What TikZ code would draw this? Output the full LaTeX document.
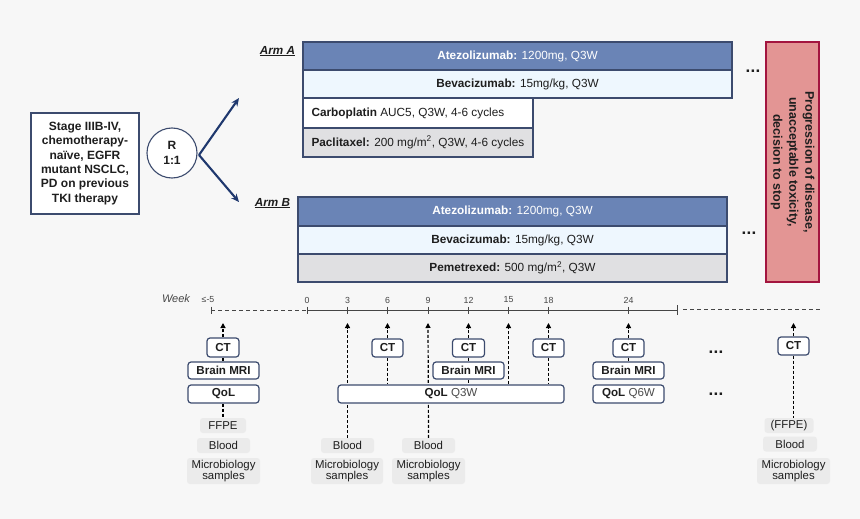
\documentclass[tikz,border=0pt]{standalone}
\usepackage{fontspec}
\setmainfont{Liberation Sans}
\usetikzlibrary{arrows.meta,backgrounds}
\definecolor{bgc}{HTML}{F7F7F7}
\definecolor{armline}{RGB}{60,75,110}
\definecolor{armblue}{RGB}{106,132,182}
\definecolor{armlight}{RGB}{238,247,254}
\definecolor{armgrey}{RGB}{224,224,226}
\definecolor{redfill}{RGB}{227,149,148}
\definecolor{redline}{RGB}{163,21,63}
\definecolor{navyarrow}{RGB}{31,56,110}
\definecolor{sampbg}{RGB}{235,235,235}
\definecolor{txt}{RGB}{30,30,30}
\definecolor{tlc}{RGB}{70,70,70}
\newcommand{\tdots}{.\kern0.3pt.\kern0.3pt.}
\tikzset{
  armrow/.style={draw=armline, line width=1.1pt, inner sep=0pt, text=txt,
    font=\fontsize{11.8}{14}\selectfont},
  stagebox/.style={draw=armline, line width=1.1pt, fill=white, inner sep=0pt, align=center,
    text=txt, font=\bfseries\fontsize{12}{14.3}\selectfont},
  armlab/.style={text=txt, font=\bfseries\itshape\fontsize{11.7}{14}\selectfont},
  armarrow/.style={draw=navyarrow, line width=2.1pt, -{Stealth[length=8pt,width=7pt]}},
  dotlab/.style={text=txt, inner sep=0pt, font=\bfseries\fontsize{17}{17}\selectfont},
  tl/.style={draw=tlc, line width=1pt},
  tldash/.style={tl, dash pattern=on 4pt off 3pt},
  numlab/.style={text=tlc, font=\fontsize{8.8}{10}\selectfont, inner sep=0pt},
  tbox/.style={draw=armline, line width=1.2pt, rounded corners=3pt, fill=white, inner sep=0pt,
    text=txt, font=\bfseries\fontsize{11.6}{13}\selectfont},
  sbox/.style={fill=sampbg, rounded corners=3pt, inner sep=0pt, align=center, text=txt,
    font=\fontsize{11.4}{10.5}\selectfont},
  darr/.style={draw=black, line width=1.2pt, dash pattern=on 3pt off 2pt,
    -{Triangle[length=5pt,width=5pt]}},
  dline/.style={draw=black, line width=1.2pt, dash pattern=on 3pt off 2pt},
}
\begin{document}
\begin{tikzpicture}[x=1pt,y=-1pt]
\useasboundingbox (0,0) rectangle (860,519);

% ---------- left part ----------
\node[stagebox, minimum width=108, minimum height=101] (stage) at (85,163.5)
  {Stage IIIB-IV,\\chemotherapy-\\naïve, EGFR\\mutant NSCLC,\\PD on previous\\TKI therapy};
\node[circle, draw=armline, line width=1.1pt, fill=white, minimum size=50, inner sep=0pt,
  align=center, text=txt, font=\bfseries\fontsize{12}{14.3}\selectfont] (R) at (172,153) {R\\1:1};
\coordinate (tipA) at (239,98);
\coordinate (tipB) at (239,202);
\coordinate (Rout) at (199,155);
\draw[armarrow] (Rout) -- (tipA);
\draw[armarrow] (Rout) -- (tipB);

\node[armlab] (armA) at (277.5,51) {\underline{Arm A}};
\node[armlab] (armB) at (272.5,203) {\underline{Arm B}};

% ---------- Arm A ----------
\node[armrow, fill=armblue, minimum width=429, minimum height=28, text=white] (A1) at (517.5,56)
  {\textbf{Atezolizumab:} 1200mg, Q3W};
\node[armrow, fill=armlight, minimum width=429, minimum height=28] (A2) at (517.5,84)
  {\textbf{Bevacizumab:} 15mg/kg, Q3W};
\node[armrow, fill=white, minimum height=30, inner xsep=8.5pt] (A3) at (418,113)
  {\makebox[213pt][l]{\textbf{Carboplatin} AUC5, Q3W, 4-6 cycles}};
\node[armrow, fill=armgrey, minimum height=29, inner xsep=8.5pt] (A4) at (418,142.5)
  {\makebox[213pt][l]{\textbf{Paclitaxel:} 200 mg/m\textsuperscript{2}, Q3W, 4-6 cycles}};
\node[dotlab] (dotsA) at (753,71) {\tdots};

% ---------- Arm B ----------
\node[armrow, fill=armblue, minimum width=429, minimum height=29, text=white] (B1) at (512.5,211.5)
  {\textbf{Atezolizumab:} 1200mg, Q3W};
\node[armrow, fill=armlight, minimum width=429, minimum height=28] (B2) at (512.5,240)
  {\textbf{Bevacizumab:} 15mg/kg, Q3W};
\node[armrow, fill=armgrey, minimum width=429, minimum height=28] (B3) at (512.5,268)
  {\textbf{Pemetrexed:} 500 mg/m\textsuperscript{2}, Q3W};
\node[dotlab] (dotsB) at (749,233) {\tdots};

% ---------- stop box ----------
\node[draw=redline, fill=redfill, line width=1.6pt, minimum width=240, minimum height=53,
  inner sep=0pt, rotate=-90, align=center, text=txt,
  font=\bfseries\fontsize{12.5}{16}\selectfont] (stop) at (792.5,162)
  {Progression of disease,\\unacceptable toxicity,\\decision to stop};

% ---------- timeline ----------
\node[text=tlc, font=\itshape\fontsize{11}{13}\selectfont, inner sep=0pt] (week) at (176,299) {Week};
\node[numlab] (wkm5) at (208,300) {≤-5};
\coordinate (tstart) at (211,310);
\coordinate (t0) at (307,310);
\coordinate (tend) at (677,310);
\coordinate (dstart) at (683,309);
\coordinate (dend) at (820,309);
\draw[tldash] (tstart) -- (t0);
\draw[tl] (t0) -- (tend);
\draw[tldash] (dstart) -- (dend);
\draw[tl] (211,306.5) -- (211,313.5);
\draw[tl] (677,305) -- (677,315);
\foreach \w/\xx in {0/307,3/347.5,6/387.5,9/428,12/468.5,15/508.5,18/548.5,24/628.5}{
  \node[numlab] (wk\w) at (\xx,300) {\w};
  \draw[tl] (\xx,306.5) -- (\xx,313.5);
}

% tips
\foreach \n/\xx in {a/223,c3/347.5,c6/387.5,c9/428,c12/468.5,c15/508.5,c18/548.5,c24/628.5,cz/793.5}{
  \coordinate (tip\n) at (\xx,323);
}

% column <= -5
\node[tbox, minimum width=32, minimum height=19] (CTa) at (223,347.5) {CT};
\node[tbox, minimum width=71, minimum height=17] (MRIa) at (223.5,370.5) {Brain MRI};
\node[tbox, minimum width=71, minimum height=18] (QoLa) at (223.5,394) {QoL};
\node[sbox, minimum width=46, minimum height=15] (FFPEa) at (223,425.5) {FFPE};
\node[sbox, minimum width=53, minimum height=15] (Blooda) at (223.5,445.5) {Blood};
\node[sbox, minimum width=73, minimum height=26] (Microa) at (223.5,471) {Microbiology\\samples};

% Q3W block
\node[tbox, minimum width=226, minimum height=18] (QoL3) at (451,394) {QoL \mdseries\color{txt!80}Q3W};
\node[tbox, minimum width=31, minimum height=18] (CT6) at (387.5,348) {CT};
\node[tbox, minimum width=32, minimum height=18] (CT12) at (468.5,348) {CT};
\node[tbox, minimum width=71, minimum height=17] (MRI12) at (468.5,370.5) {Brain MRI};
\node[tbox, minimum width=31, minimum height=18] (CT18) at (548.5,348) {CT};
\node[sbox, minimum width=53, minimum height=15] (Blood3) at (347.5,445.5) {Blood};
\node[sbox, minimum width=72, minimum height=26] (Micro3) at (347,471) {Microbiology\\samples};
\node[sbox, minimum width=53, minimum height=15] (Blood9) at (428.5,445.5) {Blood};
\node[sbox, minimum width=73, minimum height=26] (Micro9) at (428.5,471) {Microbiology\\samples};

% week 24
\node[tbox, minimum width=31, minimum height=18] (CT24) at (628.5,348) {CT};
\node[tbox, minimum width=71, minimum height=17] (MRI24) at (628.5,370.5) {Brain MRI};
\node[tbox, minimum width=71, minimum height=18] (QoL24) at (628.5,394) {QoL \mdseries\color{txt!80}Q6W};
\node[dotlab] (dotsC) at (716,352) {\tdots};
\node[dotlab] (dotsD) at (716,394) {\tdots};

% end column
\node[tbox, minimum width=31, minimum height=18] (CTz) at (793.5,346) {CT};
\node[sbox, minimum width=49, minimum height=15] (FFPEz) at (789,425.5) {(FFPE)};
\node[sbox, minimum width=54, minimum height=15] (Bloodz) at (790,444) {Blood};
\node[sbox, minimum width=73, minimum height=26] (Microz) at (793.5,471) {Microbiology\\samples};

\begin{scope}[on background layer]
\fill[bgc] (0,0) rectangle (860,519);
% column <= -5
\draw[darr] (CTa.north) -- (tipa);
\draw[dline] (CTa.south) -- (MRIa.north -| CTa.south);
\draw[dline] (QoLa.south -| CTa.south) -- (FFPEa.north -| CTa.south);
% week 3, 9
\draw[darr] (Blood3.north) -- (tipc3);
\draw[darr] (Blood9.north) -- (tipc9);
% week 6
\draw[darr] (CT6.north) -- (tipc6);
\draw[dline] (CT6.south) -- (QoL3.north -| CT6.south);
% week 12
\draw[darr] (CT12.north) -- (tipc12);
\draw[dline] (CT12.south) -- (MRI12.north);
\draw[dline] (MRI12.south) -- (QoL3.north -| MRI12.south);
% week 15
\draw[darr] (QoL3.north -| tipc15) -- (tipc15);
% week 18
\draw[darr] (CT18.north) -- (tipc18);
\draw[dline] (CT18.south) -- (QoL3.north -| CT18.south);
% week 24
\draw[darr] (CT24.north) -- (tipc24);
\draw[dline] (CT24.south) -- (MRI24.north);
% end
\draw[darr] (CTz.north) -- (tipcz);
\draw[dline] (CTz.south) -- (FFPEz.north -| CTz.south);
\end{scope}
\end{tikzpicture}
\end{document}
